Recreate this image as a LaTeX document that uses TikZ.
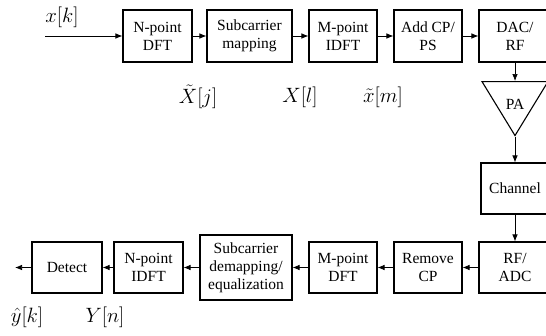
\documentclass[tikz,border=0pt]{standalone}
\usepackage{fontspec}
\setmainfont{Liberation Serif}
\usepackage{tikz}
\usetikzlibrary{arrows.meta,positioning,shapes.geometric}
\newcommand{\ofdmbox}[4]{%
  \node[draw,line width=1.1pt,align=center,inner sep=1pt,
        font=\fontsize{15.5}{18}\selectfont,
        minimum width=#3,minimum height=52pt,#4] (#1) {#2};}
\newcommand{\siglabel}[3]{%
  \node[inner sep=0pt] (#1) at (#2) {\fontsize{20.74}{24}\selectfont $#3$};}

\begin{document}
\begin{tikzpicture}[x=1pt,y=-1pt,>={Latex[length=7pt,width=5.5pt]}]
  \useasboundingbox (0,0) rectangle (546,335);
  % transmitter chain
  \ofdmbox{ndft}{N-point\\DFT}{69pt}{at={(157.5,36)}}
  \ofdmbox{submap}{Subcarrier\\mapping}{85pt}{at={(249.5,36)}}
  \ofdmbox{midft}{M-point\\IDFT}{68pt}{at={(343,36)}}
  \ofdmbox{addcp}{Add CP/\\PS}{68pt}{at={(428,36)}}
  \ofdmbox{dacrf}{DAC/\\RF}{72pt}{at={(515,36)}}
  \node[draw,line width=1.1pt,isosceles triangle,shape border rotate=270,
        isosceles triangle stretches,minimum width=66pt,minimum height=54pt,
        inner sep=0pt,anchor=apex] (pa) at (515,137) {};
  \node[font=\fontsize{15.5}{18}\selectfont,inner sep=0pt] (palabel) at (515,104) {PA};
  % channel and receiver chain
  \ofdmbox{channel}{Channel}{68pt}{at={(515,188.5)},minimum height=51pt}
  \ofdmbox{rfadc}{RF/\\ADC}{72pt}{at={(515,267.5)},minimum height=51pt}
  \ofdmbox{remcp}{Remove\\CP}{68pt}{at={(428,267.5)},minimum height=51pt}
  \ofdmbox{mdft}{M-point\\DFT}{68pt}{at={(343,267.5)},minimum height=51pt}
  \ofdmbox{demap}{Subcarrier\\demapping/\\equalization}{92pt}{at={(246,267.5)},minimum height=65pt}
  \ofdmbox{nidft}{N-point\\IDFT}{69pt}{at={(148.5,267.5)},minimum height=51pt}
  \ofdmbox{detect}{Detect}{70pt}{at={(67,267.5)},minimum height=51pt}
  % signal labels
  \siglabel{xk}{62,17}{x[k]}
  \siglabel{Xj}{198,97}{\tilde{X}[j]}
  \siglabel{Xl}{300,97}{X[l]}
  \siglabel{xm}{383,97}{\tilde{x}[m]}
  \siglabel{yk}{27,317}{\hat{y}[k]}
  \siglabel{Yn}{105,317}{Y[n]}
  \coordinate (xin) at (45,36);
  \coordinate (yout) at (15,267.5);
  \draw[->,line width=0.7pt] (xin) -- (ndft);
  \draw[->,line width=0.7pt] (ndft) -- (submap);
  \draw[->,line width=0.7pt] (submap) -- (midft);
  \draw[->,line width=0.7pt] (midft) -- (addcp);
  \draw[->,line width=0.7pt] (addcp) -- (dacrf);
  \draw[->,line width=0.7pt] (dacrf) -- (pa);
  \draw[->,line width=0.7pt] (pa.apex) -- (channel);
  \draw[->,line width=0.7pt] (channel) -- (rfadc);
  \draw[->,line width=0.7pt] (rfadc) -- (remcp);
  \draw[->,line width=0.7pt] (remcp) -- (mdft);
  \draw[->,line width=0.7pt] (mdft) -- (demap);
  \draw[->,line width=0.7pt] (demap) -- (nidft);
  \draw[->,line width=0.7pt] (nidft) -- (detect);
  \draw[->,line width=0.7pt] (detect) -- (yout);
\end{tikzpicture}
\end{document}
